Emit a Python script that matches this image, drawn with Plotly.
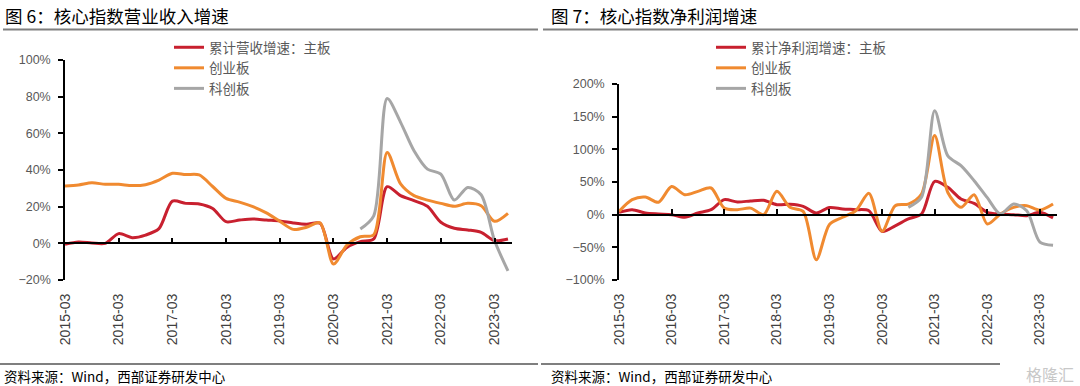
import plotly.graph_objects as go

W, H = 1080, 386

# ---------------- data ----------------
quarters = [f"{y}-{m:02d}" for y in range(2015, 2024) for m in (3, 6, 9, 12)][:34]
tick_labels = ["2015-03", "2016-03", "2017-03", "2018-03", "2019-03",
               "2020-03", "2021-03", "2022-03", "2023-03"]

series_names = ["累计营收增速：主板", "创业板", "科创板"]
series_names_np = ["累计净利润增速：主板", "创业板", "科创板"]

rev_main = [-0.5, 0.7, 0.2, 0.0, 5.3, 3.1, 4.5, 8.0, 23.0, 21.8,
            21.5, 19.0, 11.8, 12.7, 13.3, 12.7, 12.2, 11.1, 10.4, 10.9,
            -8.5, -2.2, 0.9, 2.4, 30.9, 26.0, 23.3, 20.2, 11.5, 8.2,
            7.3, 6.0, 1.5, 2.4]
rev_gem = [31.3, 31.8, 33.0, 32.2, 32.2, 31.5, 32.0, 34.5, 38.2, 37.5,
           37.3, 31.0, 24.5, 22.5, 20.0, 16.6, 12.0, 7.6, 8.8, 11.2,
           -11.3, -1.0, 3.6, 4.7, 49.6, 32.4, 26.0, 23.6, 21.8, 20.2,
           21.8, 20.5, 12.0, 16.4]
rev_star = [None] * 22 + [7.8, 15.0, 79.0, 66.0, 50.5, 40.5, 37.8, 23.6,
                          30.5, 26.5, 1.5, -15.0]

np_main = [3.6, 7.7, 2.5, 1.0, 0.0, -4.0, 2.5, 7.7, 23.0, 19.4,
           21.0, 22.0, 15.3, 15.8, 12.7, 2.5, 11.0, 8.7, 7.7, 6.0,
           -25.5, -17.0, -6.6, 1.0, 51.0, 41.8, 24.0, 17.3, 3.6, 1.0,
           0.0, -1.5, 3.6, -5.0]
np_gem = [5.0, 23.0, 27.0, 19.0, 43.0, 30.6, 35.7, 40.8, 10.0, 7.7,
          10.0, 0.0, 35.7, 11.2, 5.0, -69.0, -15.0, -4.0, 6.0, 32.6,
          -25.5, 13.8, 16.3, 31.6, 121.0, 34.0, 11.2, 30.6, -14.3, 1.0,
          11.2, 13.8, 7.0, 16.3]
np_star = [None] * 22 + [11.2, 26.5, 159.0, 90.0, 75.0, 52.0, 26.0, 1.0,
                         16.3, 6.0, -42.0, -47.0]

colors = ["#C8202F", "#F08A30", "#A6A6A6"]

# ---------------- figure ----------------
xs = list(range(len(quarters)))
tickvals = [quarters.index(t) for t in tick_labels]

fig = go.Figure()
for name, vals, c in zip(series_names, [rev_main, rev_gem, rev_star], colors):
    fig.add_trace(go.Scatter(x=xs, y=vals, name=name, mode="lines",
                             line=dict(color=c, width=3, shape="spline", smoothing=0.8),
                             xaxis="x", yaxis="y", legend="legend", connectgaps=False))
for name, vals, c in zip(series_names_np, [np_main, np_gem, np_star], colors):
    fig.add_trace(go.Scatter(x=xs, y=vals, name=name, mode="lines",
                             line=dict(color=c, width=3, shape="spline", smoothing=0.8),
                             xaxis="x2", yaxis="y2", legend="legend2", connectgaps=False))
# helper (empty) traces so the zero-line axes get drawn
fig.add_trace(go.Scatter(x=[None], y=[None], xaxis="x3", yaxis="y", showlegend=False, hoverinfo="skip"))
fig.add_trace(go.Scatter(x=[None], y=[None], xaxis="x4", yaxis="y2", showlegend=False, hoverinfo="skip"))

num_font = "Liberation Sans, Arial, sans-serif"
cjk_font = "Noto Sans CJK SC, sans-serif"

xr = [0, 33.3]
ydom = [(H - 280) / H, (H - 60) / H]
ydom2 = [(H - 280) / H, (H - 84) / H]
xdom1 = [65 / W, 512 / W]
xdom2 = [619 / W, 1057 / W]

def main_x(domain, anchor):
    return dict(domain=domain, anchor=anchor, range=xr, showline=False, showgrid=False,
                zeroline=False, ticks="", tickvals=tickvals, ticktext=tick_labels,
                tickangle=-90, ticklabelstandoff=10, automargin=False,
                tickfont=dict(family=num_font, size=14, color="#404040"))

def zero_x(over, pos):
    return dict(overlaying=over, anchor="free", position=pos, range=xr, showline=True,
                linecolor="black", linewidth=1.5, ticks="inside", ticklen=5, tickwidth=1.5,
                tickcolor="black", tickvals=tickvals, showticklabels=False,
                showgrid=False, zeroline=False, automargin=False)

def y_ax(domain, anchor, rng, dtick):
    return dict(domain=domain, anchor=anchor, range=rng, dtick=dtick, ticksuffix="%",
                showline=True, linecolor="black", linewidth=1.5, ticks="outside",
                ticklen=5, tickwidth=1.5, tickcolor="black", showgrid=False,
                zeroline=True, zerolinecolor="black", zerolinewidth=1.5, automargin=False,
                ticklabelstandoff=5,
                tickfont=dict(family=num_font, size=12.5, color="#595959"))

pos1 = ydom[0] + (ydom[1] - ydom[0]) * (20 / 120)
pos2 = ydom2[0] + (ydom2[1] - ydom2[0]) * (100 / 300)

legend_common = dict(yanchor="top", xanchor="left", bgcolor="rgba(0,0,0,0)",
                     tracegroupgap=0, font=dict(family=cjk_font, size=13.5, color="#595959"))

fig.update_layout(
    template="none",
    width=W, height=H, margin=dict(l=0, r=0, t=0, b=0, pad=0, autoexpand=False),
    paper_bgcolor="white", plot_bgcolor="white",
    xaxis=main_x(xdom1, "y"),
    xaxis2=main_x(xdom2, "y2"),
    xaxis3=zero_x("x", pos1),
    xaxis4=zero_x("x2", pos2),
    yaxis=y_ax(ydom, "x", [-20, 100], 20),
    yaxis2=y_ax(ydom2, "x2", [-100, 200], 50),
    legend=dict(x=169 / W, y=1 - 32 / H, **legend_common),
    legend2=dict(x=711 / W, y=1 - 32 / H, **legend_common),
)

# titles & sources
fig.add_annotation(x=3 / W, y=1 - 15 / H, xref="paper", yref="paper", xanchor="left",
                   yanchor="middle", showarrow=False, text="图 6：核心指数营业收入增速",
                   font=dict(family=cjk_font, size=17.5, color="black"))
fig.add_annotation(x=549 / W, y=1 - 15 / H, xref="paper", yref="paper", xanchor="left",
                   yanchor="middle", showarrow=False, text="图 7：核心指数净利润增速",
                   font=dict(family=cjk_font, size=17.5, color="black"))
for xx in (2, 549):
    fig.add_annotation(x=xx / W, y=1 - 376 / H, xref="paper", yref="paper", xanchor="left",
                       yanchor="middle", showarrow=False, text="资料来源：Wind，西部证券研发中心",
                       font=dict(family=cjk_font, size=13.5, color="black"))
fig.add_annotation(x=1076 / W, y=1 - 374 / H, xref="paper", yref="paper", xanchor="right",
                   yanchor="middle", showarrow=False, text="格隆汇",
                   font=dict(family=cjk_font, size=16, color="#C8C8C8"))

# separator lines
for x0, x1, yy in [(3, 538, 29.5), (543, 1078, 29.5), (0, 538, 364), (541, 1000, 364)]:
    fig.add_shape(type="line", xref="paper", yref="paper", x0=x0 / W, x1=x1 / W,
                  y0=1 - yy / H, y1=1 - yy / H, line=dict(color="#7F7F7F", width=2))

fig.write_html("out.html", config={"displayModeBar": False},
               post_script="document.body.style.margin='0';document.body.style.padding='0';")
